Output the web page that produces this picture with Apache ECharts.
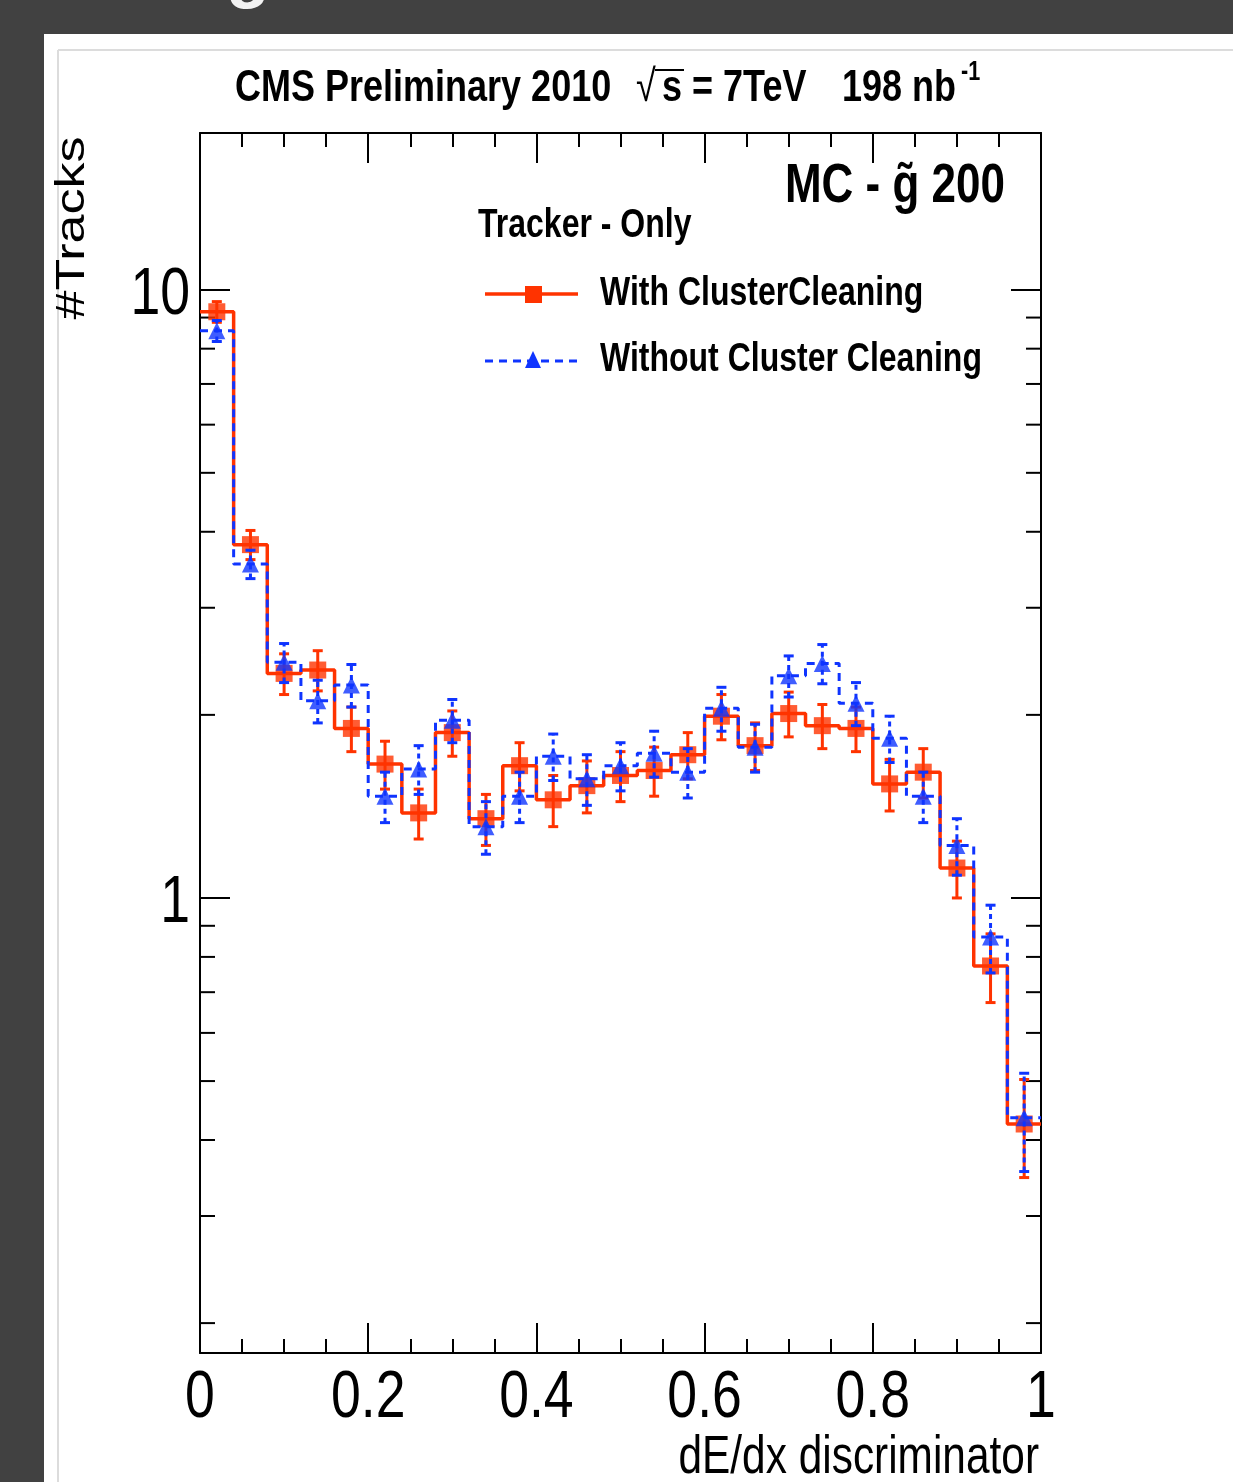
<!DOCTYPE html>
<html><head><meta charset="utf-8">
<script src="https://cdn.jsdelivr.net/npm/echarts@6/dist/echarts.min.js"></script>
<style>html,body{margin:0;padding:0;background:#414141;}#c{width:1233px;height:1482px;}</style>
</head><body><div id="c"></div>
<script>
// ---- data (25 bins of width 0.04 on [0,1]) ----
const binWidth = 0.04;
const nBins = 25;
const withCleaning    = [9.2, 3.81, 2.34, 2.37, 1.90, 1.66, 1.38, 1.87, 1.35, 1.65, 1.45, 1.53, 1.59, 1.62, 1.72, 1.99, 1.78, 2.01, 1.92, 1.90, 1.54, 1.61, 1.12, 0.773, 0.425];
const withErr         = [0.36, 0.21, 0.18, 0.18, 0.16, 0.15, 0.13, 0.16, 0.13, 0.15, 0.14, 0.15, 0.15, 0.15, 0.15, 0.17, 0.16, 0.17, 0.16, 0.16, 0.15, 0.15, 0.12, 0.10, 0.078];
const withoutCleaning = [8.56, 3.54, 2.44, 2.11, 2.24, 1.47, 1.63, 1.96, 1.31, 1.47, 1.71, 1.57, 1.65, 1.73, 1.61, 2.05, 1.77, 2.32, 2.43, 2.09, 1.83, 1.47, 1.22, 0.863, 0.435];
const withoutErr      = [0.34, 0.19, 0.18, 0.17, 0.18, 0.14, 0.15, 0.16, 0.13, 0.14, 0.15, 0.15, 0.15, 0.15, 0.15, 0.17, 0.16, 0.18, 0.18, 0.17, 0.16, 0.14, 0.13, 0.11, 0.08];
const yMajorTicks = [1, 10];
const yMajorLabels = ['1', '10'];
const yMinorTicks = [0.2, 0.3, 0.4, 0.5, 0.6, 0.7, 0.8, 0.9, 2, 3, 4, 5, 6, 7, 8, 9];
const xMajorTicks = [0, 0.2, 0.4, 0.6, 0.8, 1];
const xTickLabels = ['0', '0.2', '0.4', '0.6', '0.8', '1'];
const yAxisMin = 0.1786, yAxisMax = 18.1;

const RED = '#ff3300', BLUE = '#0f34ff';
const FONT = "'Liberation Sans', Arial, Helvetica, sans-serif";
const SX = 0.8; // horizontal squeeze of the reference's lettering

const centers = withCleaning.map((_, i) => (i + 0.5) * binWidth);
function stepData(vals) {
  const d = vals.map((v, i) => [i * binWidth, v]);
  d.push([nBins * binWidth, vals[vals.length - 1]]);
  return d;
}
function errSeries(vals, errs, color, dash, z) {
  return {
    type: 'custom', z: z, clip: false, silent: true,
    data: vals.map((v, i) => [centers[i], v - errs[i], v + errs[i]]),
    encode: { x: 0, y: [1, 2] },
    renderItem: function (params, api) {
      const x = api.value(0);
      const lo = api.coord([x, api.value(1)]);
      const hi = api.coord([x, api.value(2)]);
      const cw = 5;
      return { type: 'group', children: [
        { type: 'line', shape: { x1: lo[0], y1: lo[1], x2: hi[0], y2: hi[1] }, style: { stroke: color, lineWidth: 3, lineDash: dash } },
        { type: 'line', shape: { x1: lo[0] - cw, y1: lo[1], x2: lo[0] + cw, y2: lo[1] }, style: { stroke: color, lineWidth: 3 } },
        { type: 'line', shape: { x1: hi[0] - cw, y1: hi[1], x2: hi[0] + cw, y2: hi[1] }, style: { stroke: color, lineWidth: 3 } }
      ]};
    }
  };
}

const chart = echarts.init(document.getElementById('c'), null, { renderer: 'canvas' });
const axisCommonX = {
  type: 'value', min: 0, max: 1, interval: 0.2,
  axisLine: { show: true, onZero: false, lineStyle: { color: '#000', width: 2 } },
  axisTick: { show: true, inside: true, length: 30, lineStyle: { color: '#000', width: 2 } },
  minorTick: { show: true, splitNumber: 4, length: 14, lineStyle: { color: '#000', width: 2 } },
  axisLabel: { show: false },
  splitLine: { show: false }
};
const axisCommonY = {
  type: 'log', logBase: 10, min: yAxisMin, max: yAxisMax,
  axisLine: { show: true, onZero: false, lineStyle: { color: '#000', width: 2 } },
  axisTick: { show: true, inside: true, length: 30, lineStyle: { color: '#000', width: 2 } },
  axisLabel: { show: false },
  splitLine: { show: false }
};

const option = {
  backgroundColor: '#414141',
  animation: false,
  grid: { left: 200, top: 133, width: 841, height: 1220, show: false },
  xAxis: [
    Object.assign({}, axisCommonX, { position: 'bottom' }),
    Object.assign({}, axisCommonX, { position: 'top' })
  ],
  yAxis: [
    Object.assign({}, axisCommonY, { position: 'left' }),
    Object.assign({}, axisCommonY, { position: 'right' })
  ],
  series: [
    // minor ticks on the log axis (both sides)
    {
      type: 'custom', clip: false, silent: true, z: 5,
      data: yMinorTicks.map(v => [0, v]),
      encode: { x: 0, y: 1 },
      renderItem: function (params, api) {
        const v = api.value(1);
        const l = api.coord([0, v]), r = api.coord([1, v]);
        return { type: 'group', children: [
          { type: 'line', shape: { x1: l[0], y1: l[1], x2: l[0] + 15, y2: l[1] }, style: { stroke: '#000', lineWidth: 2 } },
          { type: 'line', shape: { x1: r[0], y1: r[1], x2: r[0] - 15, y2: r[1] }, style: { stroke: '#000', lineWidth: 2 } }
        ]};
      }
    },
    // y tick labels
    {
      type: 'custom', clip: false, silent: true, z: 5,
      data: yMajorTicks.map((v, i) => [0, v, i]),
      encode: { x: 0, y: 1 },
      renderItem: function (params, api) {
        const p = api.coord([0, api.value(1)]);
        return { type: 'text', x: p[0] - 10, y: p[1] + 6, scaleX: SX,
          style: { text: yMajorLabels[api.value(2)], fontFamily: FONT, fontSize: 67, fill: '#000', align: 'right', verticalAlign: 'middle' } };
      }
    },
    // x tick labels
    {
      type: 'custom', clip: false, silent: true, z: 5,
      data: xMajorTicks.map((v, i) => [v, yAxisMin, i]),
      encode: { x: 0, y: 1 },
      renderItem: function (params, api) {
        const p = api.coord([api.value(0), api.value(1)]);
        return { type: 'text', x: p[0], y: p[1] + 46, scaleX: SX,
          style: { text: xTickLabels[api.value(2)], fontFamily: FONT, fontSize: 67, fill: '#000', align: 'center', verticalAlign: 'middle' } };
      }
    },
    { type: 'line', name: 'With ClusterCleaning', step: 'end', data: stepData(withCleaning), showSymbol: false, z: 10,
      lineStyle: { color: RED, width: 3.5 }, silent: true },
    errSeries(withCleaning, withErr, RED, null, 11),
    { type: 'scatter', data: withCleaning.map((v, i) => [centers[i], v]), symbol: 'rect', symbolSize: 17, z: 12,
      itemStyle: { color: RED }, silent: true },
    { type: 'line', name: 'Without Cluster Cleaning', step: 'end', data: stepData(withoutCleaning), showSymbol: false, z: 13,
      lineStyle: { color: BLUE, width: 3, type: [8, 6] }, silent: true },
    errSeries(withoutCleaning, withoutErr, BLUE, [5, 4], 14),
    { type: 'scatter', data: withoutCleaning.map((v, i) => [centers[i], v]), symbol: 'triangle', symbolSize: 17, z: 15,
      itemStyle: { color: BLUE }, silent: true }
  ],
  graphic: [
    { type: 'text', x: 226, y: 10, z: -11, style: { text: 'g', fontFamily: FONT, fontWeight: 'bold', fontSize: 72, fill: '#f2f2f2', verticalAlign: 'bottom' } },
    { type: 'rect', z: -10, shape: { x: 44, y: 34, width: 1189, height: 1448 }, style: { fill: '#fff' } },
    { type: 'line', z: -9, shape: { x1: 58, y1: 50, x2: 1233, y2: 50 }, style: { stroke: '#dcdcdc', lineWidth: 2 } },
    { type: 'line', z: -9, shape: { x1: 58, y1: 50, x2: 58, y2: 1482 }, style: { stroke: '#dcdcdc', lineWidth: 2 } },
    // title
    { type: 'text', x: 235, y: 89, scaleX: SX, style: { text: 'CMS Preliminary 2010', fontFamily: FONT, fontWeight: 'bold', fontSize: 45, fill: '#000', verticalAlign: 'middle' } },
    { type: 'text', x: 636, y: 89, scaleX: SX, style: { text: '\u221A', fontFamily: FONT, fontSize: 45, fill: '#000', verticalAlign: 'middle' } },
    { type: 'line', shape: { x1: 655, y1: 70, x2: 684, y2: 70 }, style: { stroke: '#000', lineWidth: 2 } },
    { type: 'text', x: 662, y: 89, scaleX: SX, style: { text: 's = 7TeV', fontFamily: FONT, fontWeight: 'bold', fontSize: 45, fill: '#000', verticalAlign: 'middle' } },
    { type: 'text', x: 842, y: 89, scaleX: SX, style: { text: '198 nb', fontFamily: FONT, fontWeight: 'bold', fontSize: 45, fill: '#000', verticalAlign: 'middle' } },
    { type: 'text', x: 961, y: 73, scaleX: SX, style: { text: '-1', fontFamily: FONT, fontWeight: 'bold', fontSize: 27, fill: '#000', verticalAlign: 'middle' } },
    { type: 'text', x: 1005, y: 187, scaleX: SX, style: { text: 'MC - g\u0303 200', fontFamily: FONT, fontWeight: 'bold', fontSize: 55, fill: '#000', align: 'right', verticalAlign: 'middle' } },
    { type: 'text', x: 478, y: 226, scaleX: SX, style: { text: 'Tracker - Only', fontFamily: FONT, fontWeight: 'bold', fontSize: 40, fill: '#000', align: 'left', verticalAlign: 'middle' } },
    // legend
    { type: 'line', shape: { x1: 485, y1: 294, x2: 578, y2: 294 }, style: { stroke: RED, lineWidth: 3.5 } },
    { type: 'rect', shape: { x: 525, y: 286, width: 17, height: 17 }, style: { fill: RED } },
    { type: 'text', x: 600, y: 294, scaleX: SX, style: { text: 'With ClusterCleaning', fontFamily: FONT, fontWeight: 'bold', fontSize: 40, fill: '#000', verticalAlign: 'middle' } },
    { type: 'line', shape: { x1: 485, y1: 361, x2: 578, y2: 361 }, style: { stroke: BLUE, lineWidth: 3, lineDash: [8, 6] } },
    { type: 'polygon', shape: { points: [[533, 351], [541, 368], [525, 368]] }, style: { fill: BLUE } },
    { type: 'text', x: 600, y: 360, scaleX: SX, style: { text: 'Without Cluster Cleaning', fontFamily: FONT, fontWeight: 'bold', fontSize: 40, fill: '#000', verticalAlign: 'middle' } },
    // axis titles
    { type: 'text', x: 1039, y: 1458, scaleX: SX, style: { text: 'dE/dx discriminator', fontFamily: FONT, fontSize: 53, fill: '#000', align: 'right', verticalAlign: 'middle' } },
    { type: 'text', x: 73, y: 228, rotation: Math.PI / 2, scaleX: 1.3, style: { text: '#Tracks', fontFamily: FONT, fontSize: 40, fill: '#000', align: 'center', verticalAlign: 'middle' } }
  ]
};
chart.setOption(option);
</script>
</body></html>
